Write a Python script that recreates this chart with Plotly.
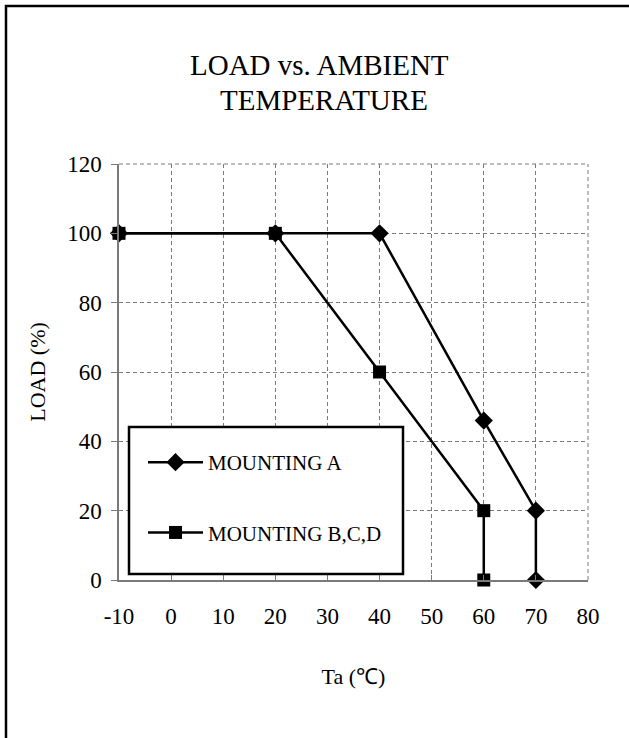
import plotly.graph_objects as go

# ---- data ----
temp_a = [-10, 20, 40, 60, 70, 70]
load_a = [100, 100, 100, 46, 20, 0]
temp_bcd = [-10, 20, 40, 60, 60]
load_bcd = [100, 100, 60, 20, 0]
x_ticks = [-10, 0, 10, 20, 30, 40, 50, 60, 70, 80]
x_tick_labels = ["-10", "0", "10", "20", "30", "40", "50", "60", "70", "80"]
y_ticks = [0, 20, 40, 60, 80, 100, 120]
series_names = ["MOUNTING A", "MOUNTING B,C,D"]
title_lines = ["LOAD vs. AMBIENT", "TEMPERATURE"]

FONT = "Liberation Serif, Times New Roman, serif"
W, H = 629, 738
L, R, T, B = 119, 41, 164, 158
PW, PH = W - L - R, H - T - B
GRID = "#7a7a7a"

def px_x(p):
    return (p - L) / PW

def px_y(p):
    return (H - B - p) / PH

fig = go.Figure()
fig.add_trace(go.Scatter(
    x=temp_a, y=load_a, mode="lines+markers", name=series_names[0],
    legendgroup="a", cliponaxis=False,
    line=dict(color="black", width=2.5),
    marker=dict(symbol="diamond", size=14, color="black"),
))
fig.add_trace(go.Scatter(
    x=temp_bcd, y=load_bcd, mode="lines+markers", name=series_names[1],
    legendgroup="b", cliponaxis=False,
    line=dict(color="black", width=2.5),
    marker=dict(symbol="square", size=13, color="black"),
))

axis_common = dict(
    showgrid=True, gridcolor=GRID, gridwidth=1, griddash="4px,3px",
    showline=True, linecolor=GRID, linewidth=1.5,
    zeroline=False, tickcolor=GRID,
    tickfont=dict(family=FONT, size=23, color="black"),
)

fig.update_xaxes(
    range=[x_ticks[0], x_ticks[-1]], tickvals=x_ticks, ticktext=x_tick_labels,
    ticks="inside", ticklen=5, ticklabelstandoff=15,
    title=dict(text="Ta (℃)", font=dict(family=FONT, size=22, color="black"), standoff=40),
    **axis_common,
)
fig.update_yaxes(
    range=[y_ticks[0], y_ticks[-1]], tickvals=y_ticks,
    ticks="outside", ticklen=6, ticklabelstandoff=5,
    title=dict(text="LOAD (%)", font=dict(family=FONT, size=22, color="black"), standoff=15),
    **axis_common,
)

shapes = [
    # dashed grid lines on the top and right edges of the plot area
    dict(type="line", xref="paper", yref="paper", x0=0, x1=1, y0=1, y1=1,
         line=dict(color=GRID, width=1, dash="4px,3px"), layer="below"),
    dict(type="line", xref="paper", yref="paper", x0=1, x1=1, y0=0, y1=1,
         line=dict(color=GRID, width=1, dash="4px,3px"), layer="below"),
    # outer frame (extends beyond the visible page on right/bottom)
    dict(type="rect", xref="paper", yref="paper",
         x0=px_x(6), x1=px_x(660), y0=px_y(6), y1=px_y(770),
         line=dict(color="black", width=2.5), fillcolor="rgba(0,0,0,0)", layer="above"),
    # legend frame
    dict(type="rect", xref="paper", yref="paper",
         x0=px_x(129), x1=px_x(403), y0=px_y(427), y1=px_y(574),
         line=dict(color="black", width=2.5), fillcolor="white", layer="above"),
]

annotations = [
    dict(text=title_lines[0], xref="paper", yref="paper", x=px_x(319), y=px_y(65),
         xanchor="center", yanchor="middle", showarrow=False,
         font=dict(family=FONT, size=29, color="black")),
    dict(text=title_lines[1], xref="paper", yref="paper", x=px_x(324), y=px_y(100),
         xanchor="center", yanchor="middle", showarrow=False,
         font=dict(family=FONT, size=29, color="black")),
]

fig.update_layout(
    width=W, height=H,
    margin=dict(l=L, r=R, t=T, b=B),
    paper_bgcolor="white", plot_bgcolor="white",
    showlegend=True,
    legend=dict(
        x=px_x(143), y=px_y(442), xanchor="left", yanchor="top",
        bgcolor="rgba(0,0,0,0)", borderwidth=0,
        font=dict(family=FONT, size=21, color="black"),
        tracegroupgap=40, itemwidth=55, traceorder="grouped",
    ),
    shapes=shapes,
    annotations=annotations,
)

fig.write_html("out.html", config={"displayModeBar": False},
               post_script="document.body.style.margin='0';")
